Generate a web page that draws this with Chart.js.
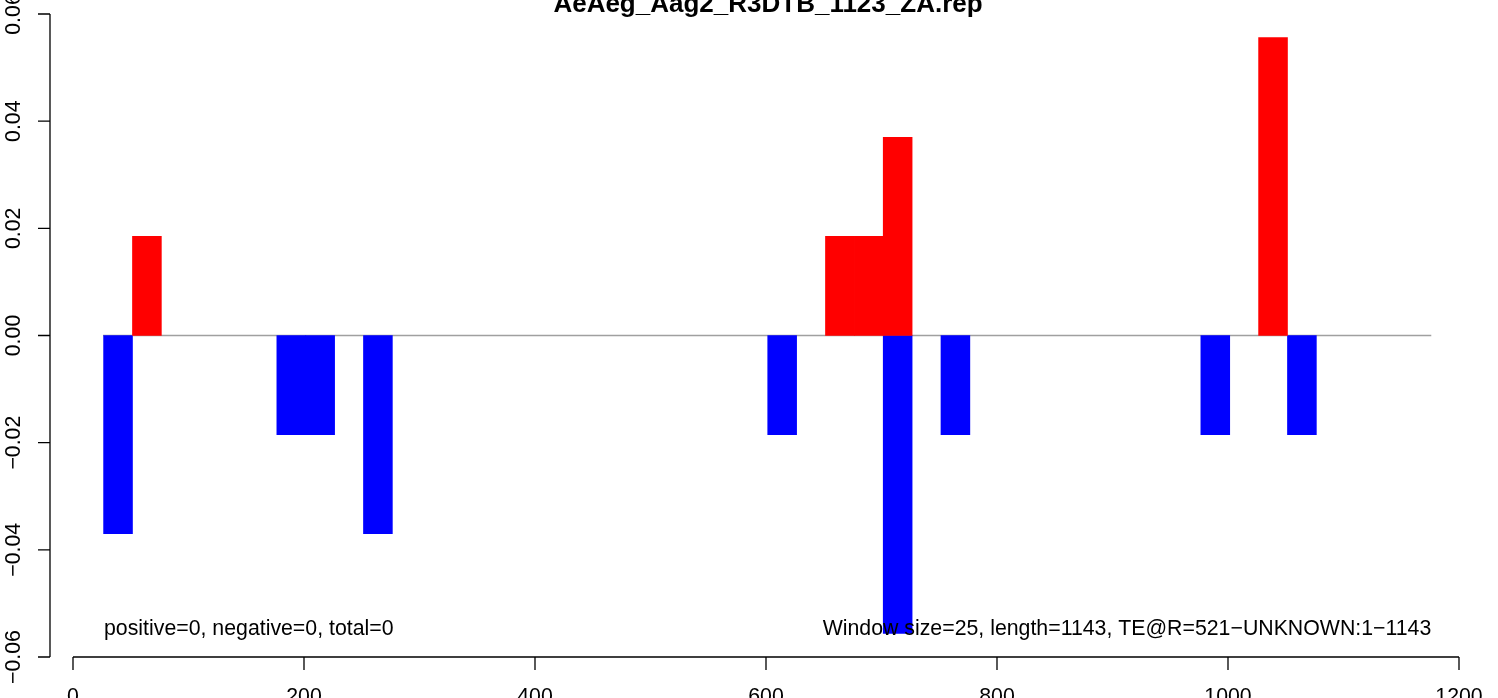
<!DOCTYPE html>
<html>
<head>
<meta charset="utf-8">
<script src="https://cdn.jsdelivr.net/npm/chart.js@4/dist/chart.umd.min.js"></script>
<style>
  html, body { margin: 0; padding: 0; background: #fff; }
  canvas { display: block; }
</style>
</head>
<body>
<canvas id="plot" width="1498" height="698"></canvas>
<script>
const title = 'AeAeg_Aag2_R3DTB_1123_ZA.rep';

// 25 bp windows, start positions
const windowStarts = [
  0, 25, 50, 75, 100, 125, 150, 175, 200, 225, 250, 275,
  300, 325, 350, 375, 400, 425, 450, 475, 500, 525, 550, 575,
  600, 625, 650, 675, 700, 725, 750, 775, 800, 825, 850, 875,
  900, 925, 950, 975, 1000, 1025, 1050, 1075, 1100, 1125, 1150, 1175,
];
// null = nothing in that window
const positiveValues = [
  null, null, 0.0185, null, null, null, null, null, null, null, null, null,
  null, null, null, null, null, null, null, null, null, null, null, null,
  null, null, 0.0185, 0.0185, 0.037, null, null, null, null, null, null, null,
  null, null, null, null, null, 0.0556, null, null, null, null, null, null,
];
const negativeValues = [
  null, -0.037, null, null, null, null, null, -0.0185, -0.0185, null, -0.037, null,
  null, null, null, null, null, null, null, null, null, null, null, null,
  -0.0185, null, null, null, -0.0556, null, -0.0185, null, null, null, null, null,
  null, null, null, -0.0185, null, null, -0.0185, null, null, null, null, null,
];
const zeroLineSpan = [26, 1176];

const xTicks = [0, 200, 400, 600, 800, 1000, 1200];
const yTicks = [-0.06, -0.04, -0.02, 0, 0.02, 0.04, 0.06];
const yTickLabels = ['\u22120.06', '\u22120.04', '\u22120.02', '0.00', '0.02', '0.04', '0.06'];

const leftNote = 'positive=0, negative=0, total=0';
const rightNote = 'Window size=25, length=1143, TE@R=521\u2212UNKNOWN:1\u22121143';

const FONT = '"Liberation Sans", Arial, Helvetica, sans-serif';
const X_SHIFT = 1.5; // windows sit 1.5 bp right of their nominal start

// base-graphics look: detached axes, rotated y labels, title and notes
const rAxes = {
  id: 'rAxes',
  afterDraw(chart) {
    const { ctx, chartArea } = chart;
    const xs = chart.scales.xl;
    const ys = chart.scales.y;
    ctx.save();
    ctx.strokeStyle = '#000';
    ctx.fillStyle = '#000';
    ctx.lineWidth = 1.3;

    // y axis
    const ax = xs.getPixelForValue(0) - 23;
    ctx.beginPath();
    ctx.moveTo(ax, ys.getPixelForValue(yTicks[yTicks.length - 1]));
    ctx.lineTo(ax, ys.getPixelForValue(yTicks[0]));
    yTicks.forEach((v) => {
      const p = ys.getPixelForValue(v);
      ctx.moveTo(ax, p);
      ctx.lineTo(ax - 12, p);
    });
    ctx.stroke();

    ctx.font = '21.3px ' + FONT;
    ctx.textAlign = 'center';
    ctx.textBaseline = 'alphabetic';
    yTicks.forEach((v, i) => {
      ctx.save();
      ctx.translate(ax - 29.5, ys.getPixelForValue(v));
      ctx.rotate(-Math.PI / 2);
      ctx.fillText(yTickLabels[i], 0, 0);
      ctx.restore();
    });

    // x axis
    const ay = chartArea.bottom;
    ctx.beginPath();
    ctx.moveTo(xs.getPixelForValue(xTicks[0]), ay);
    ctx.lineTo(xs.getPixelForValue(xTicks[xTicks.length - 1]), ay);
    xTicks.forEach((v) => {
      const p = xs.getPixelForValue(v);
      ctx.moveTo(p, ay);
      ctx.lineTo(p, ay + 13);
    });
    ctx.stroke();
    xTicks.forEach((v) => {
      ctx.fillText(String(v), xs.getPixelForValue(v), ay + 45.5);
    });

    // notes
    const noteY = ys.getPixelForValue(0) + 299.5;
    ctx.textAlign = 'left';
    ctx.fillText(leftNote, xs.getPixelForValue(zeroLineSpan[0]) + 1, noteY);
    ctx.textAlign = 'right';
    ctx.fillText(rightNote, xs.getPixelForValue(zeroLineSpan[1]), noteY);

    // title
    ctx.font = 'bold 26px ' + FONT;
    ctx.textAlign = 'center';
    ctx.fillText(title, (xs.getPixelForValue(0) + xs.getPixelForValue(1200)) / 2 + 2, 12);
    ctx.restore();
  },
};

const barStyle = {
  borderWidth: 0,
  barPercentage: 1,
  categoryPercentage: 1,
  grouped: false,
  order: 0,
};

new Chart(document.getElementById('plot'), {
  type: 'bar',
  data: {
    labels: windowStarts.map(String),
    datasets: [
      { label: 'positive', data: positiveValues, backgroundColor: '#ff0000', ...barStyle },
      { label: 'negative', data: negativeValues, backgroundColor: '#0000ff', ...barStyle },
      {
        type: 'line',
        label: 'zero',
        xAxisID: 'xl',
        data: zeroLineSpan.map((x) => ({ x, y: 0 })),
        borderColor: '#a0a0a0',
        borderWidth: 1.5,
        pointRadius: 0,
        fill: false,
        order: 1,
      },
    ],
  },
  options: {
    responsive: false,
    animation: false,
    events: [],
    layout: { padding: { left: 74.73, right: 37.27, top: 14, bottom: 41 } },
    plugins: {
      legend: { display: false },
      title: { display: false },
      tooltip: { enabled: false },
    },
    scales: {
      x: { display: false, stacked: true, offset: true },
      xl: {
        type: 'linear', axis: 'x', display: false, offset: false,
        min: X_SHIFT, max: 1200 + X_SHIFT,
      },
      y: { display: false, stacked: true, min: -0.06, max: 0.06 },
    },
  },
  plugins: [rAxes],
});
</script>
</body>
</html>
